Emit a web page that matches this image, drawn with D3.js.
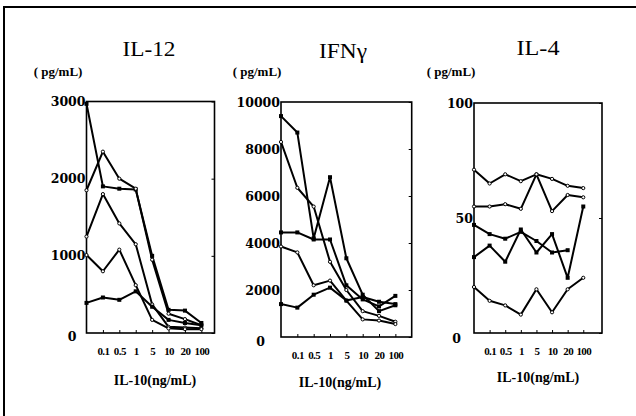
<!DOCTYPE html>
<meta charset="utf-8">
<style>
body { margin: 0; background: #fff; }
svg { display: block; }
.frame { fill: none; stroke: #000; stroke-width: 2; }
.box { fill: none; stroke: #000; stroke-width: 1.6; }
.series { fill: none; stroke: #000; stroke-width: 2; stroke-linejoin: round; }
.axis path.domain { display: none; }
.axis line { stroke: #000; stroke-width: 1; }
.yaxis text { font-family: "DejaVu Serif"; font-weight: bold; font-size: 12.5px; fill: #000; }
.xaxis text { font-family: "Liberation Serif"; font-weight: bold; font-size: 11px; letter-spacing: -0.6px; fill: #000; }
.title { font-family: "Liberation Serif"; font-size: 21px; }
.unit { font-family: "Liberation Serif"; font-weight: bold; font-size: 13px; }
.xtitle { font-family: "Liberation Serif"; font-weight: bold; font-size: 14px; }
</style>
<svg width="636" height="416"></svg>
<script src="https://cdn.jsdelivr.net/npm/d3@7"></script>
<script>

// IL-10 doses (ng/mL); the first one (no IL-10) has no label
var doses = ["0", "0.1", "0.5", "1", "5", "10", "20", "100"];

// IL-12 (pg/mL), one row per donor
var il12 = [
  [2970, 1900, 1870, 1860, 1000, 300, 290, 130],
  [1850, 2350, 2000, 1870, 950, 250, 180, 100],
  [1250, 1800, 1420, 1150, 370, 80, 70, 60],
  [1010, 800, 1080, 620, 170, 60, 50, 50],
  [390, 460, 430, 540, 340, 170, 130, 100]
];

// IFN-gamma (pg/mL)
var ifng = [
  [9400, 8700, 4200, 6800, 3350, 1800, 1100, 1350],
  [8300, 6350, 5550, 3200, 2000, 1100, 900, 650],
  [4450, 4450, 4150, 4150, 2200, 1600, 1300, 1750],
  [3850, 3600, 2200, 2400, 1550, 750, 700, 550],
  [1400, 1250, 1800, 2100, 1550, 1700, 1500, 1400]
];

// IL-4 (pg/mL)
var il4 = [
  [71, 65, 69, 66, 69, 67, 64, 63],
  [55, 55, 56, 54, 69, 53, 60, 59],
  [47, 43, 41, 44, 40, 35, 36, null],
  [33, 38, 31, 45, 35, 43, 24, 55],
  [20, 14, 12, 8, 19, 9, 19, 24]
];

var il12Ticks = [0, 1000, 2000, 3000];
var ifngTicks = [0, 2000, 4000, 6000, 8000, 10000];
var il4Ticks = [0, 50, 100];

var titles = ["IL-12", "IFN\u03b3", "IL-4"];
var unitLabel = "( pg/mL)";
var xTitle = "IL-10(ng/mL)";

var svg = d3.select("svg");

// outer frame (only top and left edges fall inside the picture)
svg.append("path")
    .attr("class", "frame")
    .attr("d", "M4,420 L4,7 L640,7");

var panels = [
  {data: il12, ticks: il12Ticks, max: 3000, xr: [86.5, 214.5], xmax: 7.8, yr: [333, 101.5],
   tx: 149, ty: 56, tw: 53, ux: 58, xt: [155, 385], zero: [-9, 3],
   marks: ["square", "circle", "circle", "circle", "square"]},
  {data: ifng, ticks: ifngTicks, max: 10000, xr: [281, 411.7], xmax: 8, yr: [337, 102],
   tx: 343, ty: 58, tw: 48, ux: 257, xt: [340, 387], zero: [-15, 4],
   marks: ["square", "circle", "square", "circle", "square"]},
  {data: il4, ticks: il4Ticks, max: 100, xr: [474, 602], xmax: 8.2, yr: [333, 103],
   tx: 538, ty: 55, tw: 43, ux: 451, xt: [538, 382], zero: [-12, 5],
   marks: ["circle", "circle", "square", "square", "circle"]}
];

panels.forEach(function(p, k) {
  var x = d3.scaleLinear().domain([0, p.xmax]).range(p.xr),
      y = d3.scaleLinear().domain([0, p.max]).range(p.yr);

  var g = svg.append("g");

  g.append("text")
      .attr("class", "title")
      .attr("x", p.tx)
      .attr("y", p.ty)
      .attr("text-anchor", "middle")
      .attr("textLength", p.tw)
      .attr("lengthAdjust", "spacingAndGlyphs")
      .text(titles[k]);

  g.append("text")
      .attr("class", "unit")
      .attr("x", p.ux)
      .attr("y", 76)
      .attr("text-anchor", "middle")
      .text(unitLabel);

  g.append("rect")
      .attr("class", "box")
      .attr("x", x(0))
      .attr("y", y(p.max))
      .attr("width", x(p.xmax) - x(0))
      .attr("height", y(0) - y(p.max));

  // y labels on the left
  var ya = g.append("g")
      .attr("class", "axis yaxis")
      .attr("transform", "translate(" + x(0) + ",0)")
      .call(d3.axisLeft(y).tickValues(p.ticks).tickSize(0).tickPadding(1).tickFormat(d3.format("d")));
  ya.selectAll(".tick text")
      .filter(function(d) { return d === 0; })
      .attr("dx", p.zero[0])
      .attr("dy", function() { return (p.zero[1] + 4) + "px"; });

  // small inward ticks on the right edge
  g.append("g")
      .attr("class", "axis")
      .attr("transform", "translate(" + x(p.xmax) + ",0)")
      .call(d3.axisLeft(y).tickValues(p.ticks).tickSize(3).tickFormat(""));

  // dose labels under the x axis, ticks pointing up
  g.append("g")
      .attr("class", "axis xaxis")
      .attr("transform", "translate(0," + y(0) + ")")
      .call(d3.axisBottom(x).tickValues(d3.range(1, doses.length))
        .tickSize(-3).tickPadding(14)
        .tickFormat(function(i) { return doses[i]; }));

  g.append("text")
      .attr("class", "xtitle")
      .attr("x", p.xt[0])
      .attr("y", p.xt[1])
      .attr("text-anchor", "middle")
      .text(xTitle);

  var line = d3.line()
      .defined(function(d) { return d != null; })
      .x(function(d, i) { return x(i); })
      .y(function(d) { return y(d); });

  p.data.forEach(function(row, s) {
    g.append("path")
        .attr("class", "series")
        .attr("d", line(row));

    var pts = row.map(function(v, i) { return {i: i, v: v}; })
        .filter(function(d) { return d.v != null; });

    if (p.marks[s] === "circle") {
      g.selectAll(null)
          .data(pts)
          .enter().append("circle")
          .attr("cx", function(d) { return x(d.i); })
          .attr("cy", function(d) { return y(d.v); })
          .attr("r", 1.6)
          .attr("fill", "#fff")
          .attr("stroke", "#000")
          .attr("stroke-width", 1);
    } else {
      g.selectAll(null)
          .data(pts)
          .enter().append("rect")
          .attr("x", function(d) { return x(d.i) - 2; })
          .attr("y", function(d) { return y(d.v) - 2; })
          .attr("width", 4)
          .attr("height", 4)
          .attr("fill", "#000");
    }
  });
});

</script>
